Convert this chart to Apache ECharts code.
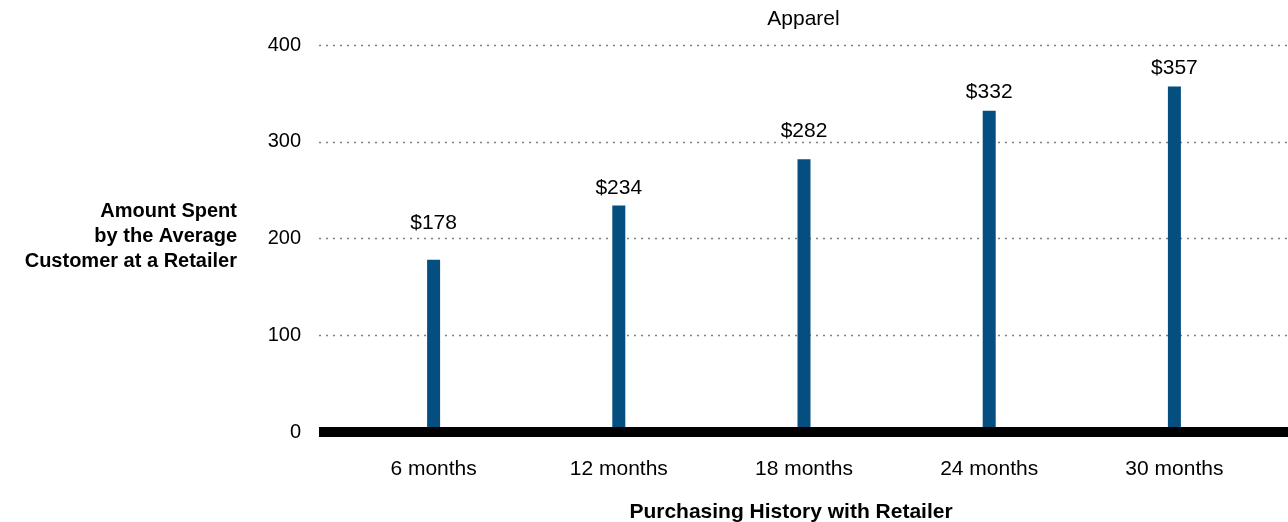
<!DOCTYPE html>
<html>
<head>
<meta charset="utf-8">
<script src="https://cdn.jsdelivr.net/npm/echarts@6/dist/echarts.min.js"></script>
<style>
html,body{margin:0;padding:0;background:#fff;}
#chart{width:1288px;height:522px;}
</style>
</head>
<body>
<div id="chart"></div>
<script>
const categories = ['6 months', '12 months', '18 months', '24 months', '30 months'];
const amounts = [178, 234, 282, 332, 357];
const yTicks = [0, 100, 200, 300, 400];
const chartTitle = 'Apparel';
const yTitleLines = ['Amount Spent', 'by the Average', 'Customer at a Retailer'];
const xTitle = 'Purchasing History with Retailer';

const FONT = '"Liberation Sans", Arial, Helvetica, sans-serif';
// label gaps above bars (lifted where a label would sit on a gridline)
const labelDistances = [26, 7, 17, 8, 8];

const chart = echarts.init(document.getElementById('chart'), null, {renderer: 'canvas'});
const option = {
  backgroundColor: '#ffffff',
  animation: false,
  textStyle: {fontFamily: FONT},
  grid: [
    {left: 319, right: 0, top: 45, bottom: 90, containLabel: false},
    {left: 341, right: 21, top: 45, bottom: 90, containLabel: false}
  ],
  xAxis: [
    {
      gridIndex: 0, type: 'value', min: 0, max: 1, z: 10,
      axisLine: {show: true, onZero: false, lineStyle: {color: '#000', width: 10, cap: 'butt'}},
      axisTick: {show: false}, axisLabel: {show: false}, splitLine: {show: false}
    },
    {
      gridIndex: 1, type: 'category', data: categories,
      axisLine: {show: false}, axisTick: {show: false}, splitLine: {show: false},
      axisLabel: {color: '#000', fontSize: 21, fontFamily: FONT, margin: 27}
    }
  ],
  yAxis: [
    {
      gridIndex: 0, type: 'value', min: yTicks[0], max: yTicks[yTicks.length - 1], interval: 100,
      axisLine: {show: false}, axisTick: {show: false},
      axisLabel: {color: '#000', fontSize: 20, fontFamily: FONT, margin: 18},
      splitLine: {show: true, lineStyle: {color: '#808080', width: 1.3, type: [2, 5]}}
    },
    {
      gridIndex: 1, type: 'value', min: yTicks[0], max: yTicks[yTicks.length - 1],
      show: false, splitLine: {show: false}
    }
  ],
  series: [{
    type: 'bar',
    xAxisIndex: 1, yAxisIndex: 1,
    data: amounts.map((v, i) => ({value: v, label: {distance: labelDistances[i]}})),
    barWidth: 13,
    itemStyle: {color: '#054f80'},
    label: {
      show: true, position: 'top', distance: 7,
      color: '#000', fontSize: 21, fontFamily: FONT,
      formatter: p => '$' + p.value
    }
  }],
  graphic: [
    {type: 'text', x: 803.5, y: 19, style: {text: chartTitle, font: '21px ' + FONT, fill: '#000', textAlign: 'center', textVerticalAlign: 'middle'}},
    {type: 'text', x: 237, y: 236, style: {text: yTitleLines.join('\n'), font: 'bold 20px ' + FONT, lineHeight: 25, fill: '#000', textAlign: 'right', textVerticalAlign: 'middle'}},
    {type: 'text', x: 791, y: 512, style: {text: xTitle, font: 'bold 21px ' + FONT, fill: '#000', textAlign: 'center', textVerticalAlign: 'middle'}}
  ]
};
chart.setOption(option);
</script>
</body>
</html>
